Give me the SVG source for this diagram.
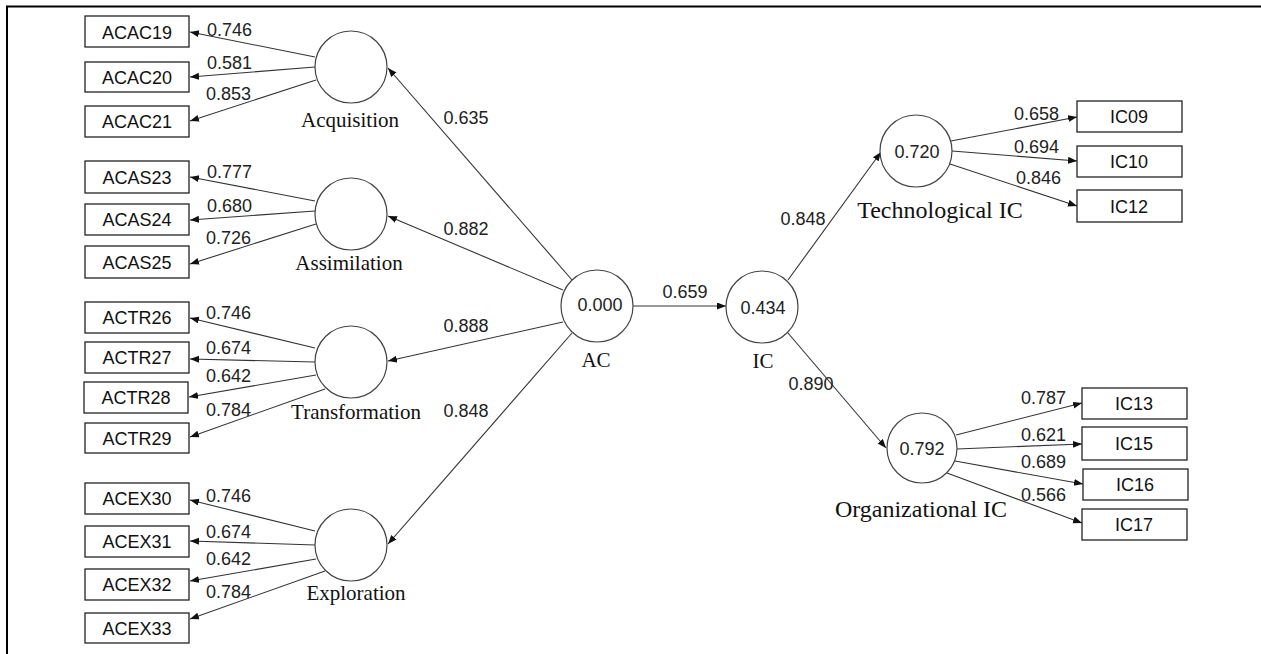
<svg xmlns="http://www.w3.org/2000/svg" width="1261" height="654" viewBox="0 0 1261 654">
<style>
.box{fill:#fff;stroke:#222;stroke-width:1.3}
.lv{fill:#fff;stroke:#444;stroke-width:1.2}
.bt{font-family:"Liberation Sans",Arial,sans-serif;font-size:18px;fill:#111;text-anchor:middle}
.num{font-family:"Liberation Sans",Arial,sans-serif;font-size:18px;fill:#222}
.nm{font-family:"Liberation Serif","Times New Roman",serif;font-size:21px;fill:#111;text-anchor:middle}
.nl{font-family:"Liberation Serif","Times New Roman",serif;font-size:24px;fill:#111;text-anchor:middle}
.cn line{stroke:#333;stroke-width:1.1;marker-end:url(#ah)}
</style>
<defs>
<marker id="ah" markerUnits="userSpaceOnUse" markerWidth="10" markerHeight="8" refX="9" refY="3.5" orient="auto">
<path d="M0,0 L9,3.5 L0,7 z" fill="#111"/>
</marker>
</defs>
<rect width="1261" height="654" fill="#fff"/>
<path d="M7,654 V6.5 H1261" fill="none" stroke="#000" stroke-width="2"/>

<g class="cn" id="connectors">
<line x1="572" y1="280" x2="388" y2="68"/>
<line x1="563" y1="290" x2="388" y2="216"/>
<line x1="563" y1="322" x2="388" y2="361"/>
<line x1="572" y1="333" x2="388" y2="544"/>
<line x1="633" y1="306" x2="726" y2="306"/>
<line x1="788" y1="280" x2="881" y2="152"/>
<line x1="788" y1="333" x2="886" y2="448"/>
<line x1="315" y1="57" x2="190" y2="32"/>
<line x1="315" y1="67" x2="190" y2="77"/>
<line x1="316" y1="80" x2="190" y2="121"/>
<line x1="315" y1="201" x2="190" y2="177"/>
<line x1="315" y1="211" x2="190" y2="220"/>
<line x1="316" y1="224" x2="190" y2="264"/>
<line x1="315" y1="348" x2="190" y2="318"/>
<line x1="315" y1="362" x2="190" y2="359"/>
<line x1="316" y1="375" x2="189" y2="397"/>
<line x1="325" y1="389" x2="190" y2="437"/>
<line x1="315" y1="531" x2="190" y2="500"/>
<line x1="315" y1="545" x2="190" y2="541"/>
<line x1="316" y1="559" x2="190" y2="581"/>
<line x1="325" y1="571" x2="190" y2="619"/>
<line x1="951" y1="141" x2="1077" y2="117"/>
<line x1="952" y1="151" x2="1077" y2="161"/>
<line x1="950" y1="164" x2="1077" y2="206"/>
<line x1="956" y1="435" x2="1082" y2="403"/>
<line x1="957" y1="449" x2="1082" y2="444"/>
<line x1="955" y1="461" x2="1083" y2="484"/>
<line x1="947" y1="473" x2="1082" y2="523"/>
</g>

<g id="labels" class="num">
<text x="466" y="124" text-anchor="middle">0.635</text>
<text x="466" y="235" text-anchor="middle">0.882</text>
<text x="466" y="332" text-anchor="middle">0.888</text>
<text x="466" y="417" text-anchor="middle">0.848</text>
<text x="685" y="298" text-anchor="middle">0.659</text>
<text x="803" y="225" text-anchor="middle">0.848</text>
<text x="811" y="390" text-anchor="middle">0.890</text>
<text x="207" y="36">0.746</text>
<text x="207" y="69">0.581</text>
<text x="206" y="100">0.853</text>
<text x="207" y="178">0.777</text>
<text x="207" y="212">0.680</text>
<text x="206" y="244">0.726</text>
<text x="206" y="319">0.746</text>
<text x="206" y="354">0.674</text>
<text x="206" y="382">0.642</text>
<text x="206" y="416">0.784</text>
<text x="206" y="502">0.746</text>
<text x="206" y="538">0.674</text>
<text x="206" y="565">0.642</text>
<text x="206" y="598">0.784</text>
<text x="1014" y="120">0.658</text>
<text x="1014" y="153">0.694</text>
<text x="1016" y="184">0.846</text>
<text x="1021" y="404">0.787</text>
<text x="1021" y="441">0.621</text>
<text x="1021" y="468">0.689</text>
<text x="1021" y="501">0.566</text>
</g>

<g id="ACAC19"><rect class="box" x="85" y="16" width="104" height="31"/><text class="bt" x="137" y="38.5">ACAC19</text></g>
<g id="ACAC20"><rect class="box" x="85" y="62" width="104" height="30"/><text class="bt" x="137" y="83.5">ACAC20</text></g>
<g id="ACAC21"><rect class="box" x="85" y="106" width="104" height="31"/><text class="bt" x="137" y="128">ACAC21</text></g>
<g id="ACAS23"><rect class="box" x="85" y="161" width="104" height="32"/><text class="bt" x="137" y="183.5">ACAS23</text></g>
<g id="ACAS24"><rect class="box" x="85" y="204" width="104" height="31"/><text class="bt" x="137" y="226">ACAS24</text></g>
<g id="ACAS25"><rect class="box" x="85" y="246" width="104" height="32"/><text class="bt" x="137" y="268.5">ACAS25</text></g>
<g id="ACTR26"><rect class="box" x="85" y="302" width="104" height="31"/><text class="bt" x="137" y="324">ACTR26</text></g>
<g id="ACTR27"><rect class="box" x="85" y="342" width="104" height="31"/><text class="bt" x="137" y="364">ACTR27</text></g>
<g id="ACTR28"><rect class="box" x="84" y="382" width="104" height="31"/><text class="bt" x="136" y="404">ACTR28</text></g>
<g id="ACTR29"><rect class="box" x="85" y="423" width="104" height="30"/><text class="bt" x="137" y="444.5">ACTR29</text></g>
<g id="ACEX30"><rect class="box" x="85" y="483" width="104" height="31"/><text class="bt" x="137" y="505">ACEX30</text></g>
<g id="ACEX31"><rect class="box" x="85" y="526" width="104" height="31"/><text class="bt" x="137" y="548">ACEX31</text></g>
<g id="ACEX32"><rect class="box" x="85" y="569" width="104" height="31"/><text class="bt" x="137" y="591">ACEX32</text></g>
<g id="ACEX33"><rect class="box" x="85" y="613" width="104" height="30"/><text class="bt" x="137" y="634.5">ACEX33</text></g>

<g id="IC09"><rect class="box" x="1077" y="101" width="105" height="31"/><text class="bt" x="1129" y="123">IC09</text></g>
<g id="IC10"><rect class="box" x="1077" y="146" width="105" height="31"/><text class="bt" x="1129" y="168">IC10</text></g>
<g id="IC12"><rect class="box" x="1077" y="190" width="105" height="32"/><text class="bt" x="1129" y="212.5">IC12</text></g>
<g id="IC13"><rect class="box" x="1082" y="388" width="105" height="31"/><text class="bt" x="1134" y="410">IC13</text></g>
<g id="IC15"><rect class="box" x="1082" y="427" width="105" height="33"/><text class="bt" x="1134" y="450">IC15</text></g>
<g id="IC16"><rect class="box" x="1083" y="469" width="105" height="31"/><text class="bt" x="1135" y="491">IC16</text></g>
<g id="IC17"><rect class="box" x="1082" y="509" width="105" height="31"/><text class="bt" x="1134" y="531">IC17</text></g>

<g id="Acquisition"><circle class="lv" cx="351" cy="67" r="36"/><text class="nm" x="350" y="127">Acquisition</text></g>
<g id="Assimilation"><circle class="lv" cx="351" cy="214" r="36"/><text class="nm" x="349" y="270">Assimilation</text></g>
<g id="Transformation"><circle class="lv" cx="351" cy="362" r="36"/><text class="nm" x="356" y="419">Transformation</text></g>
<g id="Exploration"><circle class="lv" cx="351" cy="545" r="36"/><text class="nm" x="356" y="600">Exploration</text></g>
<g id="AC"><circle class="lv" cx="597" cy="306" r="36"/><text class="num" x="600" y="311" text-anchor="middle">0.000</text><text class="nm" x="596" y="367">AC</text></g>
<g id="IC"><circle class="lv" cx="762" cy="307" r="36"/><text class="num" x="763" y="314" text-anchor="middle">0.434</text><text class="nm" x="763" y="368">IC</text></g>
<g id="TechnologicalIC"><circle class="lv" cx="916" cy="151" r="36"/><text class="num" x="917" y="158" text-anchor="middle">0.720</text><text class="nl" x="940" y="218">Technological IC</text></g>
<g id="OrganizationalIC"><circle class="lv" cx="922" cy="448" r="35"/><text class="num" x="922" y="455" text-anchor="middle">0.792</text><text class="nl" x="921" y="517">Organizational IC</text></g>
</svg>
